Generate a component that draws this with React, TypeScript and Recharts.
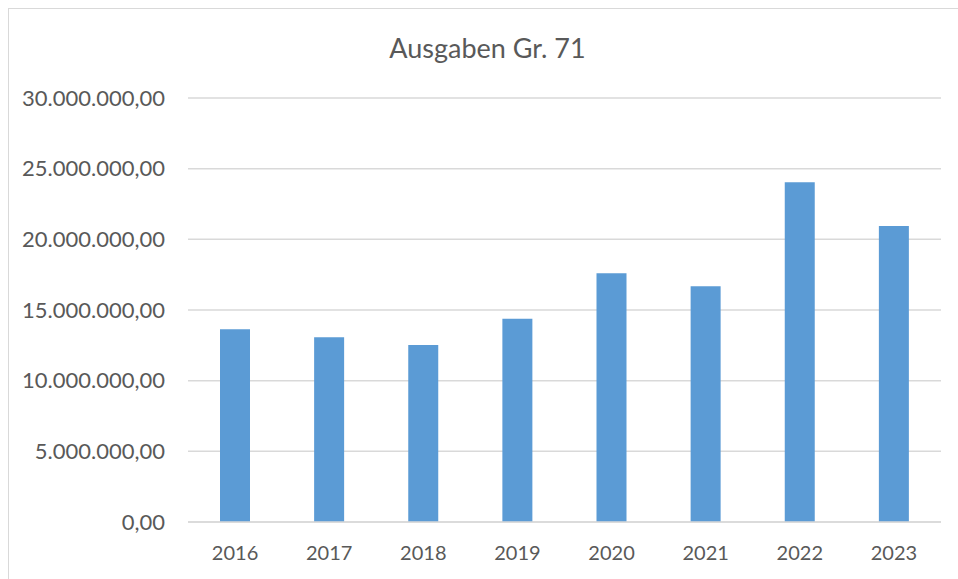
import { BarChart, Bar, XAxis, YAxis, CartesianGrid } from 'recharts'

const YEARS = ['2016', '2017', '2018', '2019', '2020', '2021', '2022', '2023']
const AUSGABEN = [13640000, 13070000, 12530000, 14380000, 17600000, 16680000, 24040000, 20950000]
const Y_TICKS = [0, 5000000, 10000000, 15000000, 20000000, 25000000, 30000000]

const data = YEARS.map((jahr, i) => ({ jahr, wert: AUSGABEN[i] }))

const FONT = 'Lato, "Open Sans", sans-serif'
const TEXT = '#595959'

const fmt = (v: number) =>
  v.toLocaleString('de-DE', { minimumFractionDigits: 2, maximumFractionDigits: 2 })

export default function App() {
  return (
    <div style={{ position: 'absolute', left: 0, top: 0, width: 958, height: 579, background: '#fff', overflow: 'hidden' }}>
      <div style={{ position: 'absolute', left: 8, top: 8, width: 980, height: 600, borderLeft: '1px solid #d9d9d9', borderTop: '1px solid #d9d9d9' }} />
      <div style={{ position: 'absolute', left: 0, top: 31, width: 975, textAlign: 'center', fontFamily: FONT, fontSize: 27, lineHeight: '34px', color: TEXT }}>
        Ausgaben Gr. 71
      </div>
      <BarChart
        width={958}
        height={579}
        data={data}
        margin={{ top: 98, right: 17, bottom: 27, left: 8 }}
        barCategoryGap="34%"
        style={{ position: 'absolute', left: 0, top: 0 }}
      >
        <CartesianGrid vertical={false} stroke="#d9d9d9" strokeWidth={1.5} />
        <XAxis
          dataKey="jahr"
          axisLine={{ stroke: '#d9d9d9', strokeWidth: 1.5 }}
          tickLine={false}
          tickMargin={18}
          tick={{ fill: TEXT, fontSize: 20, fontFamily: FONT }}
        />
        <YAxis
          width={180}
          domain={[0, 30000000]}
          ticks={Y_TICKS}
          axisLine={false}
          tickLine={false}
          tickMargin={17}
          tickFormatter={fmt}
          tick={{ fill: TEXT, fontSize: 22, fontFamily: FONT }}
        />
        <Bar dataKey="wert" fill="#5b9bd5" isAnimationActive={false} />
      </BarChart>
    </div>
  )
}
